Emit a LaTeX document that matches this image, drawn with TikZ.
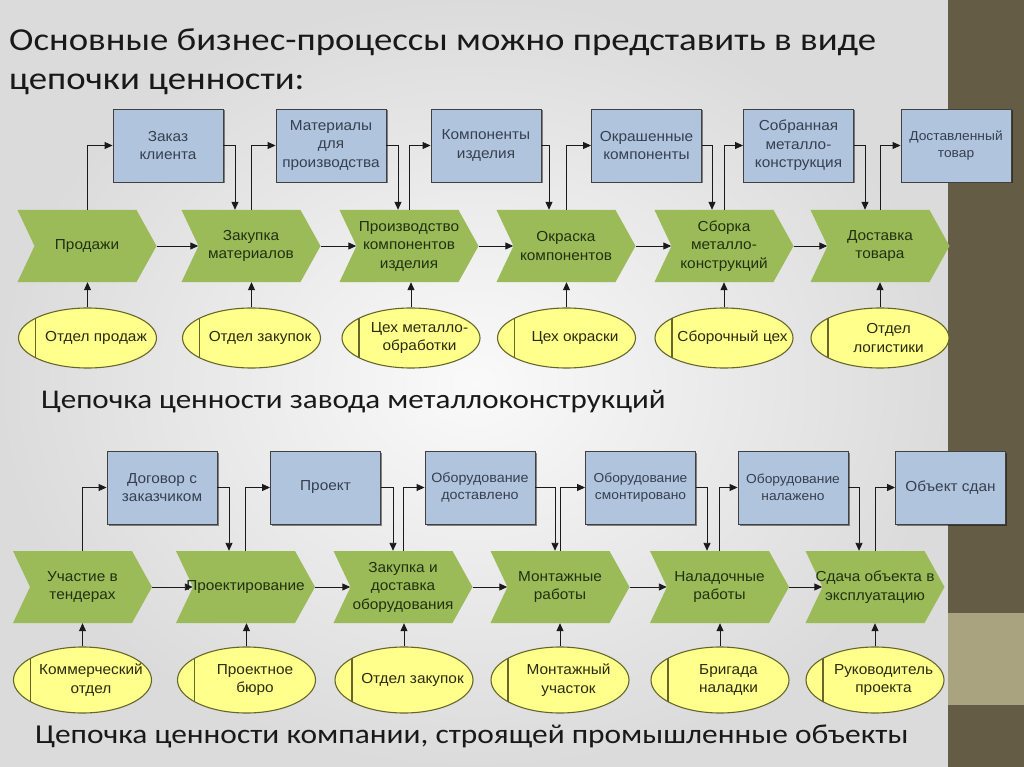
\documentclass[tikz,border=0pt]{standalone}
\usepackage{fontspec}
\setmainfont[FakeStretch=1.15]{Carlito}
\newfontfamily\arialf[FakeStretch=1.06]{Liberation Sans}
\usetikzlibrary{arrows.meta,shapes.geometric,shadows,calc}
\definecolor{boxfill}{HTML}{B0C4DE}
\definecolor{boxline}{HTML}{404040}
\definecolor{boxtext}{HTML}{36404E}
\definecolor{chevfill}{HTML}{9BBB59}
\definecolor{chevtext}{HTML}{1E3210}
\definecolor{ellfill}{HTML}{FFFF8C}
\definecolor{ellline}{HTML}{66662A}
\definecolor{elltext}{HTML}{2A2A10}
\definecolor{stripc}{HTML}{655C46}
\definecolor{stripl}{HTML}{A9A37F}
\definecolor{conline}{HTML}{1A1A1A}
\tikzset{
  dfont/.style={font=\arialf\fontsize{14.5}{18.5}\selectfont},
  sfont/.style={font=\arialf\fontsize{13}{16.5}\selectfont},
  infobox/.style={dfont, draw=boxline, line width=0.9pt, fill=boxfill, text=boxtext,
    minimum width=110, minimum height=73, inner sep=1pt, align=center,
    drop shadow={shadow xshift=1.5pt, shadow yshift=-1.5pt, opacity=0.45, fill=black}},
  chev/.style={dfont, text=chevtext, minimum width=139, minimum height=72, inner sep=0pt, align=center,
    path picture={\fill[chevfill] (path picture bounding box.north west)
      -- ([xshift=-20pt]path picture bounding box.north east)
      -- (path picture bounding box.east)
      -- ([xshift=-20pt]path picture bounding box.south east)
      -- (path picture bounding box.south west)
      -- ([xshift=17pt]path picture bounding box.west) -- cycle;}},
  org/.style={ellipse, draw=ellline, line width=1.1pt, fill=ellfill, minimum width=138, minimum height=#1, inner sep=0pt,
    path picture={\draw[ellline, line width=1.1pt] ([xshift=17pt]path picture bounding box.south west) -- ([xshift=17pt]path picture bounding box.north west);}},
  org/.default=60,
  orgtext/.style={dfont, text=elltext, align=center, inner sep=0pt},
  con/.style={draw=conline, line width=0.9pt, -{Triangle[length=8pt,width=7pt]}},
  title/.style={font=\fontsize{32}{38}\selectfont, text=black!90, inner sep=0pt, anchor=base west},
  subtitle/.style={font=\fontsize{27}{32}\selectfont, text=black!90, inner sep=0pt, anchor=base west}
}
\begin{document}
\begin{tikzpicture}[x=1pt,y=-1pt]
\useasboundingbox (0,0) rectangle (1024,767);
\shade[inner color=white!96!gray, outer color=gray!28] (0,0) rectangle (948,767);
\fill[stripc] (948,0) rectangle (1024,767);
\fill[stripl] (948,613) rectangle (1024,705);

\node[title] (t1) at (9,51) {Основные бизнес-процессы можно представить в виде};
\node[title] (t2) at (9,90) {цепочки ценности:};
\node[subtitle] (s1) at (41,408) {Цепочка ценности завода металлоконструкций};
\node[subtitle, font=\fontsize{27.3}{32}\selectfont] (s2) at (35,743) {Цепочка ценности компании, строящей промышленные объекты};

% ---------- top chain ----------
\node[infobox] (b1) at (168,145.5) {Заказ\\клиента};
\node[infobox] (b2) at (331,145.5) {Материалы\\для\\производства};
\node[infobox] (b3) at (486,145.5) {Компоненты\\изделия};
\node[infobox] (b4) at (646.5,145.5) {Окрашенные\\компоненты};
\node[infobox] (b5) at (798.5,145.5) {Собранная\\металло-\\конструкция};
\node[infobox, sfont] (b6) at (956,145.5) {Доставленный\\товар};

\node[chev] (p1) at (87,246) {Продажи};
\node[chev] (p2) at (251,246) {Закупка\\материалов};
\node[chev] (p3) at (409,246) {Производство\\компонентов\\изделия};
\node[chev] (p4) at (566,246) {Окраска\\компонентов};
\node[chev] (p5) at (724,246) {Сборка\\металло-\\конструкций};
\node[chev] (p6) at (880,246) {Доставка\\товара};

\node[org] (e1) at (87.5,338) {};
\node[org] (e2) at (251.5,338) {};
\node[org] (e3) at (411,338) {};
\node[org] (e4) at (566.5,338) {};
\node[org] (e5) at (724,338) {};
\node[org] (e6) at (880,338) {};
\node[orgtext] (e1t) at ([xshift=8.5pt]e1.center) {Отдел продаж};
\node[orgtext] (e2t) at ([xshift=8.5pt]e2.center) {Отдел закупок};
\node[orgtext] (e3t) at ([xshift=8.5pt]e3.center) {Цех металло-\\обработки};
\node[orgtext] (e4t) at ([xshift=8.5pt]e4.center) {Цех окраски};
\node[orgtext] (e5t) at ([xshift=8.5pt]e5.center) {Сборочный цех};
\node[orgtext] (e6t) at ([xshift=8.5pt]e6.center) {Отдел\\логистики};

\draw[con] (p1.east) -- ([xshift=17pt]p2.west);
\draw[con] (p2.east) -- ([xshift=17pt]p3.west);
\draw[con] (p3.east) -- ([xshift=17pt]p4.west);
\draw[con] (p4.east) -- ([xshift=17pt]p5.west);
\draw[con] (p5.east) -- ([xshift=17pt]p6.west);

\foreach \i in {1,...,6}{\draw[con] (e\i.north) -- (e\i.north |- p\i.south);}

\draw[con] (p1.north) |- (b1.west);
\draw[con] (p2.north) |- (b2.west);
\draw[con] (p3.north) |- (b3.west);
\draw[con] (p4.north) |- (b4.west);
\draw[con] (p5.north) |- (b5.west);
\draw[con] (p6.north) |- (b6.west);
\draw[con] (b1.east) -| ([xshift=-16pt]p2.north);
\draw[con] (b2.east) -| ([xshift=-11pt]p3.north);
\draw[con] (b3.east) -| ([xshift=-17pt]p4.north);
\draw[con] (b4.east) -| ([xshift=-12pt]p5.north);
\draw[con] (b5.east) -| ([xshift=-15pt]p6.north);

% ---------- bottom chain ----------
\node[infobox] (c1) at (162,487.5) {Договор с\\заказчиком};
\node[infobox] (c2) at (325.5,487.5) {Проект};
\node[infobox, font=\arialf\fontsize{13.5}{17}\selectfont] (c3) at (480,487.5) {Оборудование\\доставлено};
\node[infobox, sfont] (c4) at (640.5,487.5) {Оборудование\\смонтировано};
\node[infobox, sfont] (c5) at (793,487.5) {Оборудование\\налажено};
\node[infobox] (c6) at (950.5,487.5) {Объект сдан};

\node[chev] (q1) at (82.5,587) {Участие в\\тендерах};
\node[chev] (q2) at (245.5,587) {Проектирование};
\node[chev] (q3) at (403,587) {Закупка и\\доставка\\оборудования};
\node[chev] (q4) at (560,587) {Монтажные\\работы};
\node[chev] (q5) at (719.5,587) {Наладочные\\работы};
\node[chev] (q6) at (875,587) {Сдача объекта в\\эксплуатацию};

\node[org=66] (f1) at (82.5,680) {};
\node[org=66] (f2) at (246.5,680) {};
\node[org=66] (f3) at (404,680) {};
\node[org=66] (f4) at (560,680) {};
\node[org=66] (f5) at (720,680) {};
\node[org=66] (f6) at (875,680) {};
\node[orgtext] (f1t) at ([xshift=8.5pt]f1.center) {Коммерческий\\отдел};
\node[orgtext] (f2t) at ([xshift=8.5pt]f2.center) {Проектное\\бюро};
\node[orgtext] (f3t) at ([xshift=8.5pt]f3.center) {Отдел закупок};
\node[orgtext] (f4t) at ([xshift=8.5pt]f4.center) {Монтажный\\участок};
\node[orgtext] (f5t) at ([xshift=8.5pt]f5.center) {Бригада\\наладки};
\node[orgtext] (f6t) at ([xshift=8.5pt]f6.center) {Руководитель\\проекта};

\draw[con] (q1.east) -- ([xshift=17pt]q2.west);
\draw[con] (q2.east) -- ([xshift=17pt]q3.west);
\draw[con] (q3.east) -- ([xshift=17pt]q4.west);
\draw[con] (q4.east) -- ([xshift=17pt]q5.west);
\draw[con] (q5.east) -- ([xshift=17pt]q6.west);

\foreach \i in {1,...,6}{\draw[con] (f\i.north) -- (f\i.north |- q\i.south);}

\draw[con] (q1.north) |- (c1.west);
\draw[con] (q2.north) |- (c2.west);
\draw[con] (q3.north) |- (c3.west);
\draw[con] (q4.north) |- (c4.west);
\draw[con] (q5.north) |- (c5.west);
\draw[con] (q6.north) |- (c6.west);
\draw[con] (c1.east) -| ([xshift=-16.5pt]q2.north);
\draw[con] (c2.east) -| ([xshift=-10pt]q3.north);
\draw[con] (c3.east) -| ([xshift=-5pt]q4.north);
\draw[con] (c4.east) -| ([xshift=-12.5pt]q5.north);
\draw[con] (c5.east) -| ([xshift=-16pt]q6.north);
\end{tikzpicture}
\end{document}
